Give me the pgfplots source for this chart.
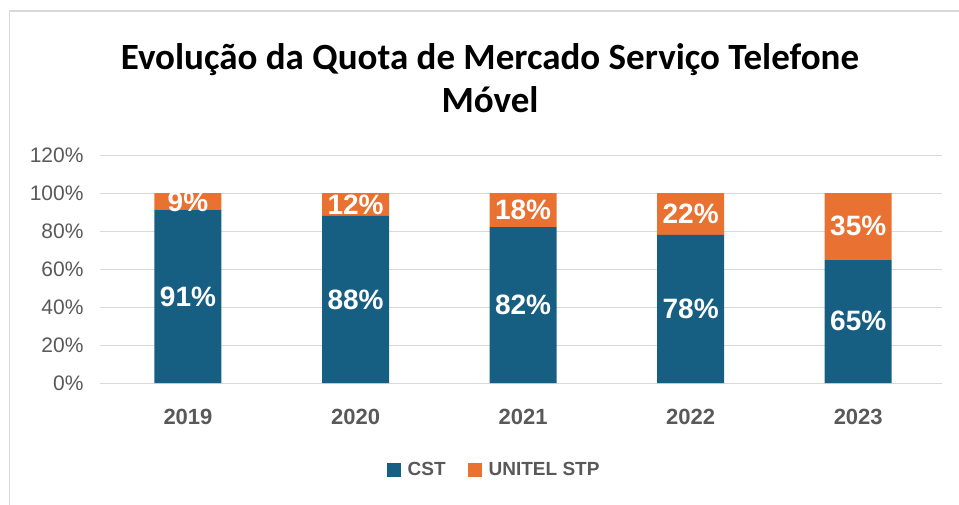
\documentclass[border=0pt]{standalone}
\usepackage{pgfplots}
\pgfplotsset{compat=1.18}
\usepackage{fontspec}
\setmainfont{Liberation Sans}
\newfontfamily\titlefont{Carlito}
\definecolor{cst}{HTML}{175F82}
\definecolor{unitel}{HTML}{E97132}
\definecolor{gridgray}{HTML}{D9D9D9}
\definecolor{txtgray}{HTML}{595959}
\tikzset{lbl/.style={font=\bfseries\fontsize{28}{30}\selectfont, text=white}}
\begin{document}
\begin{tikzpicture}[x=1pt,y=1pt]
\path[use as bounding box] (0,0) rectangle (959,-505);
\draw[gridgray, line width=1.5pt] (9.5,-505) -- (9.5,-11) -- (959,-11);
\node[font=\titlefont\bfseries\fontsize{37}{43}\selectfont, align=center] at (490,-78)
  {Evolução da Quota de Mercado Serviço Telefone\\Móvel};
\begin{axis}[
    at={(100pt,-383pt)}, anchor=south west,
    scale only axis, width=842pt, height=228pt,
    ybar stacked, bar width=67pt,
    xmin=-0.525, xmax=4.5,
    ymin=0, ymax=1.2,
    xtick={0,1,2,3,4},
    xticklabels={2019,2020,2021,2022,2023},
    ytick={0,0.2,0.4,0.6,0.8,1.0,1.2},
    yticklabels={0\%,20\%,40\%,60\%,80\%,100\%,120\%},
    axis x line*=bottom,
    axis y line*=left,
    y axis line style={draw=none},
    x axis line style={draw=gridgray, line width=1pt},
    major tick length=0pt,
    ymajorgrids, grid style={gridgray, line width=1pt},
    yticklabel style={font=\fontsize{21}{23}\selectfont, text=txtgray, xshift=-13pt},
    xticklabel style={font=\bfseries\fontsize{22}{24}\selectfont, text=txtgray, yshift=-23pt},
    legend style={at={(0.468,-0.38)}, anchor=center, draw=none, legend columns=2,
      font=\bfseries\fontsize{19}{21}\selectfont, text=txtgray,
      /tikz/every odd column/.append style={column sep=5pt},
      /tikz/every even column/.append style={column sep=20pt}},
    legend image code/.code={\fill[#1] (0pt,-7pt) rectangle (14pt,7pt);},
]
\addplot[fill=cst, draw=none] coordinates {(0,0.91) (1,0.88) (2,0.82) (3,0.78) (4,0.65)};
\addlegendentry{CST}
\addplot[fill=unitel, draw=none] coordinates {(0,0.09) (1,0.12) (2,0.18) (3,0.22) (4,0.35)};
\addlegendentry{UNITEL STP}
\coordinate (a0) at (axis cs:0,0.455);
\coordinate (a1) at (axis cs:1,0.44);
\coordinate (a2) at (axis cs:2,0.41);
\coordinate (a3) at (axis cs:3,0.39);
\coordinate (a4) at (axis cs:4,0.325);
\coordinate (b0) at (axis cs:0,0.955);
\coordinate (b1) at (axis cs:1,0.94);
\coordinate (b2) at (axis cs:2,0.91);
\coordinate (b3) at (axis cs:3,0.89);
\coordinate (b4) at (axis cs:4,0.825);
\end{axis}
\node[lbl] at (a0) {91\%};
\node[lbl] at (a1) {88\%};
\node[lbl] at (a2) {82\%};
\node[lbl] at (a3) {78\%};
\node[lbl] at (a4) {65\%};
\node[lbl] at (b0) {9\%};
\node[lbl] at (b1) {12\%};
\node[lbl] at (b2) {18\%};
\node[lbl] at (b3) {22\%};
\node[lbl] at (b4) {35\%};
\end{tikzpicture}
\end{document}
